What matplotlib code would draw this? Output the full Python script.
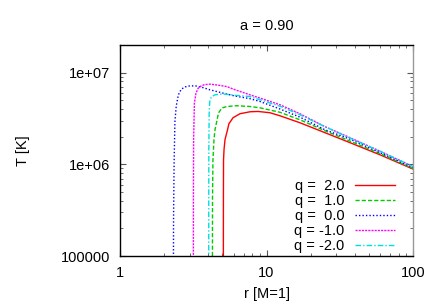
import matplotlib
matplotlib.use("Agg")
import matplotlib.pyplot as plt
from matplotlib.ticker import LogLocator, NullFormatter, FixedLocator, FixedFormatter

plt.rcParams['font.family'] = ['Liberation Sans', 'DejaVu Sans']

title = "a = 0.90"
labels = ["q =  2.0", "q =  1.0", "q =  0.0", "q = -1.0", "q = -2.0"]

# q = 2.0
r_q2 = [5.07, 5.08, 5.09, 5.13, 5.21, 5.42, 5.54, 5.91, 6.59, 7.72, 8.75, 10.56, 12.37, 16.9, 25.1, 37.2, 59.5, 100]
T_q2 = [1e4, 4.13e5, 1.12e6, 1.45e6, 1.86e6, 2.38e6, 2.77e6, 3.22e6, 3.56e6, 3.74e6, 3.77e6, 3.65e6, 3.38e6, 2.84e6, 2.21e6, 1.72e6, 1.27e6, 8.87e5]
# q = 1.0
r_q1 = [4.27, 4.28, 4.31, 4.38, 4.45, 4.60, 4.70, 4.95, 5.35, 6.26, 7.72, 9.03, 12.37, 16.9, 25.1, 37.2, 59.5, 100]
T_q1 = [1e4, 4.13e5, 1.12e6, 1.86e6, 2.38e6, 3.06e6, 3.62e6, 4.10e6, 4.27e6, 4.35e6, 4.27e6, 4.13e6, 3.69e6, 3.06e6, 2.32e6, 1.79e6, 1.31e6, 8.98e5]
# q = 0.0
r_q0 = [2.31, 2.32, 2.34, 2.37, 2.42, 2.50, 2.62, 2.80, 3.0, 3.3, 3.7, 4.1, 5.0, 6.1, 7.7, 9.0, 12.4, 16.9, 25.1, 37.2, 59.5, 100]
T_q0 = [1e4, 2.5e5, 1.0e6, 2.9e6, 4.3e6, 5.7e6, 6.6e6, 7.0e6, 7.17e6, 7.15e6, 6.85e6, 6.5e6, 6.0e6, 5.55e6, 5.2e6, 4.85e6, 4.0e6, 3.27e6, 2.38e6, 1.88e6, 1.34e6, 9.2e5]
# q = -1.0
r_qm1 = [3.165, 3.17, 3.18, 3.22, 3.30, 3.42, 3.61, 3.80, 4.12, 4.52, 5.35, 6.1, 7.72, 9.03, 12.37, 16.9, 25.1, 37.2, 59.5, 100]
T_qm1 = [1e4, 4.1e5, 1.86e6, 4.65e6, 5.97e6, 6.77e6, 7.22e6, 7.4e6, 7.48e6, 7.35e6, 7.05e6, 6.5e6, 5.72e6, 5.27e6, 4.46e6, 3.56e6, 2.57e6, 1.95e6, 1.39e6, 9.44e5]
# q = -2.0
r_qm2 = [4.03, 4.035, 4.04, 4.06, 4.09, 4.12, 4.22, 4.45, 4.82, 5.3, 6.1, 7.72, 9.03, 12.37, 16.9, 25.1, 37.2, 59.5, 100]
T_qm2 = [1e4, 4.1e5, 1.45e6, 3.47e6, 4.65e6, 5.05e6, 5.47e6, 5.72e6, 5.82e6, 5.82e6, 5.65e6, 5.48e6, 5.05e6, 4.30e6, 3.47e6, 2.57e6, 1.93e6, 1.39e6, 9.44e5]

series = [(r_q2, T_q2), (r_q1, T_q1), (r_q0, T_q0), (r_qm1, T_qm1), (r_qm2, T_qm2)]
colors = ["#ff0000", "#00cc00", "#0000ff", "#ff00ff", "#00e0e0"]
styles = ["-", (0, (3, 1.5)), (0, (1, 1.5)), (0, (1.5, 0.8)), (0, (4, 1.5, 1, 1.5))]

fig = plt.figure(figsize=(4.36, 3.05), dpi=100)
ax = fig.add_axes([120/436, 1-256/305, 293/436, 211/305])

for (r, T), c, ls, lab in zip(series, colors, styles, labels):
    ax.plot(r, T, color=c, ls=ls, lw=1.0, label=lab)

ax.set_xscale('log')
ax.set_yscale('log')
ax.set_xlim(1, 100)
ax.set_ylim(1e5, 2e7)

ax.xaxis.set_major_locator(FixedLocator([1, 10, 100]))
ax.xaxis.set_major_formatter(FixedFormatter(["1", "10", "100"]))
ax.yaxis.set_major_locator(FixedLocator([1e5, 1e6, 1e7]))
ax.yaxis.set_major_formatter(FixedFormatter(["100000", "1e+06", "1e+07"]))
ax.xaxis.set_minor_locator(LogLocator(base=10, subs=range(2, 10)))
ax.yaxis.set_minor_locator(LogLocator(base=10, subs=range(2, 10)))
ax.xaxis.set_minor_formatter(NullFormatter())
ax.yaxis.set_minor_formatter(NullFormatter())

ax.tick_params(which='both', direction='in', top=True, right=True, labelsize=10.5, color='#555555')
ax.tick_params(which='major', length=4, width=0.8, pad=7)
ax.tick_params(which='minor', length=2, width=0.6)

for s in ax.spines.values():
    s.set_linewidth(1.0)
    s.set_color('black')
ax.spines['right'].set_color('#999999')

ax.set_title(title, fontsize=10.5, pad=11)
ax.set_xlabel("r [M=1]", fontsize=10.5, labelpad=5)
ax.set_ylabel("T [K]", fontsize=10.5, labelpad=22)

ax.legend(loc='lower right', frameon=False, markerfirst=False, fontsize=10.5,
          handlelength=2.75, handletextpad=0.7, labelspacing=0.08,
          borderaxespad=0.0, bbox_to_anchor=(0.958, -0.015))

fig.savefig("out.png", dpi=100)
